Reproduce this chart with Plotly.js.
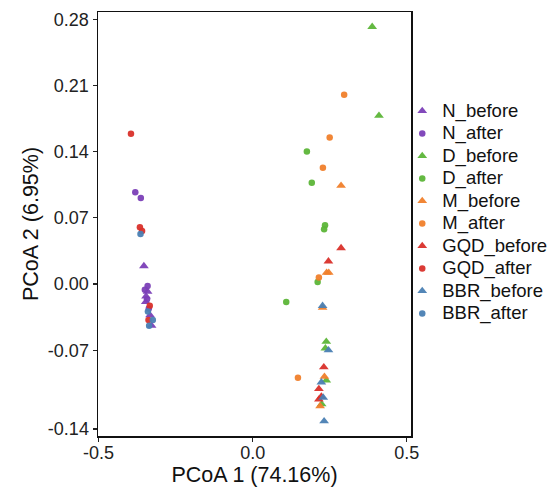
<!DOCTYPE html>
<html>
<head>
<meta charset="utf-8">
<script src="https://cdn.plot.ly/plotly-3.0.1.min.js"></script>
<style>html,body{margin:0;padding:0;background:#fff;}#chart{width:551px;height:494px;}</style>
</head>
<body>
<div id="chart"></div>
<script>
// Group names (legend order)
const groups = ["N_before","N_after","D_before","D_after","M_before","M_after","GQD_before","GQD_after","BBR_before","BBR_after"];

// PCoA coordinates
const N_before_x = [-0.353,-0.341,-0.346,-0.347,-0.333,-0.328];
const N_before_y = [0.019,-0.008,-0.013,-0.019,-0.033,-0.044];
const N_after_x = [-0.381,-0.363,-0.341,-0.350,-0.343,-0.337];
const N_after_y = [0.097,0.091,-0.002,-0.006,-0.016,-0.026];
const D_before_x = [0.388,0.410,0.239,0.236,0.239,0.224];
const D_before_y = [0.272,0.178,-0.061,-0.068,-0.102,-0.127];
const D_after_x = [0.176,0.192,0.235,0.232,0.211,0.109];
const D_after_y = [0.140,0.107,0.062,0.058,0.002,-0.019];
const M_before_x = [0.287,0.240,0.247,0.227,0.233,0.219];
const M_before_y = [0.104,0.012,0.012,-0.025,-0.098,-0.129];
const M_after_x = [0.297,0.250,0.228,0.215,0.147];
const M_after_y = [0.200,0.155,0.123,0.007,-0.099];
const GQD_before_x = [0.287,0.246,0.231,0.215,0.223,0.215];
const GQD_before_y = [0.038,0.024,-0.088,-0.111,-0.119,-0.122];
const GQD_after_x = [-0.395,-0.366,-0.359,-0.334,-0.338];
const GQD_after_y = [0.159,0.060,0.056,-0.023,-0.038];
const BBR_before_x = [0.227,0.246,0.223,0.229,0.232];
const BBR_before_y = [-0.023,-0.070,-0.104,-0.120,-0.145];
const BBR_after_x = [-0.364,-0.340,-0.324,-0.336];
const BBR_after_y = [0.053,-0.029,-0.038,-0.044];

const xs = [N_before_x,N_after_x,D_before_x,D_after_x,M_before_x,M_after_x,GQD_before_x,GQD_after_x,BBR_before_x,BBR_after_x];
const ys = [N_before_y,N_after_y,D_before_y,D_after_y,M_before_y,M_after_y,GQD_before_y,GQD_after_y,BBR_before_y,BBR_after_y];

// Tick labels
const yTickText = ["0.28","0.21","0.14","0.07","0.00","-0.07","-0.14"];
const yTickVals = [0.28,0.21,0.14,0.07,0.0,-0.07,-0.1533];
const xTickText = ["-0.5","0.0","0.5"];
const xTickVals = [-0.5,0,0.5];

const colors = {N:"#7b3fb7", D:"#5cb538", M:"#f07f2b", GQD:"#d9302a", BBR:"#4a80b3"};
const FONT = "Liberation Sans, Arial, sans-serif";

const traces = groups.map((g,i) => {
  const base = g.split("_")[0];
  const before = g.endsWith("before");
  return {
    type: "scatter",
    mode: "markers",
    name: '<span style="font-size:18.5px">' + g + '</span>',
    x: xs[i],
    y: ys[i],
    marker: {
      color: colors[base],
      symbol: before ? "triangle-up" : "circle",
      size: before ? 8.5 : 6.5,
      opacity: 0.95,
      line: {width: 0}
    }
  };
});

const axisFont = {family: FONT, size: 18, color: "#222"};

const layout = {
  width: 551,
  height: 494,
  margin: {l: 98, r: 140, t: 12, b: 58, autoexpand: false},
  paper_bgcolor: "#fff",
  plot_bgcolor: "#fff",
  showlegend: true,
  legend: {
    x: 0.972, xanchor: "left",
    y: 0.528, yanchor: "middle",
    font: {family: FONT, size: 15, color: "#111"},
    itemsizing: "trace",
    tracegroupgap: 0,
    bgcolor: "rgba(0,0,0,0)"
  },
  xaxis: {
    range: [-0.502, 0.514],
    tickvals: xTickVals,
    ticktext: xTickText,
    ticks: "outside",
    ticklen: 4,
    tickwidth: 1.3,
    tickcolor: "#222",
    ticklabelstandoff: -4,
    showline: true,
    linecolor: "#111",
    linewidth: 1.5,
    mirror: true,
    showgrid: false,
    zeroline: false,
    tickfont: axisFont,
    title: {text: "PCoA 1 (74.16%)", font: {family: FONT, size: 21.5, color: "#111"}, standoff: 5}
  },
  yaxis: {
    range: [-0.1607, 0.2876],
    tickvals: yTickVals,
    ticktext: yTickText,
    ticks: "outside",
    ticklen: 4,
    tickwidth: 1.3,
    tickcolor: "#222",
    showline: true,
    linecolor: "#111",
    linewidth: 1.5,
    mirror: true,
    showgrid: false,
    zeroline: false,
    tickfont: axisFont,
    title: {text: "PCoA 2 (6.95%)", font: {family: FONT, size: 21.5, color: "#111"}, standoff: 3}
  }
};

Plotly.newPlot("chart", traces, layout, {displayModeBar: false, staticPlot: true});
</script>
</body>
</html>
